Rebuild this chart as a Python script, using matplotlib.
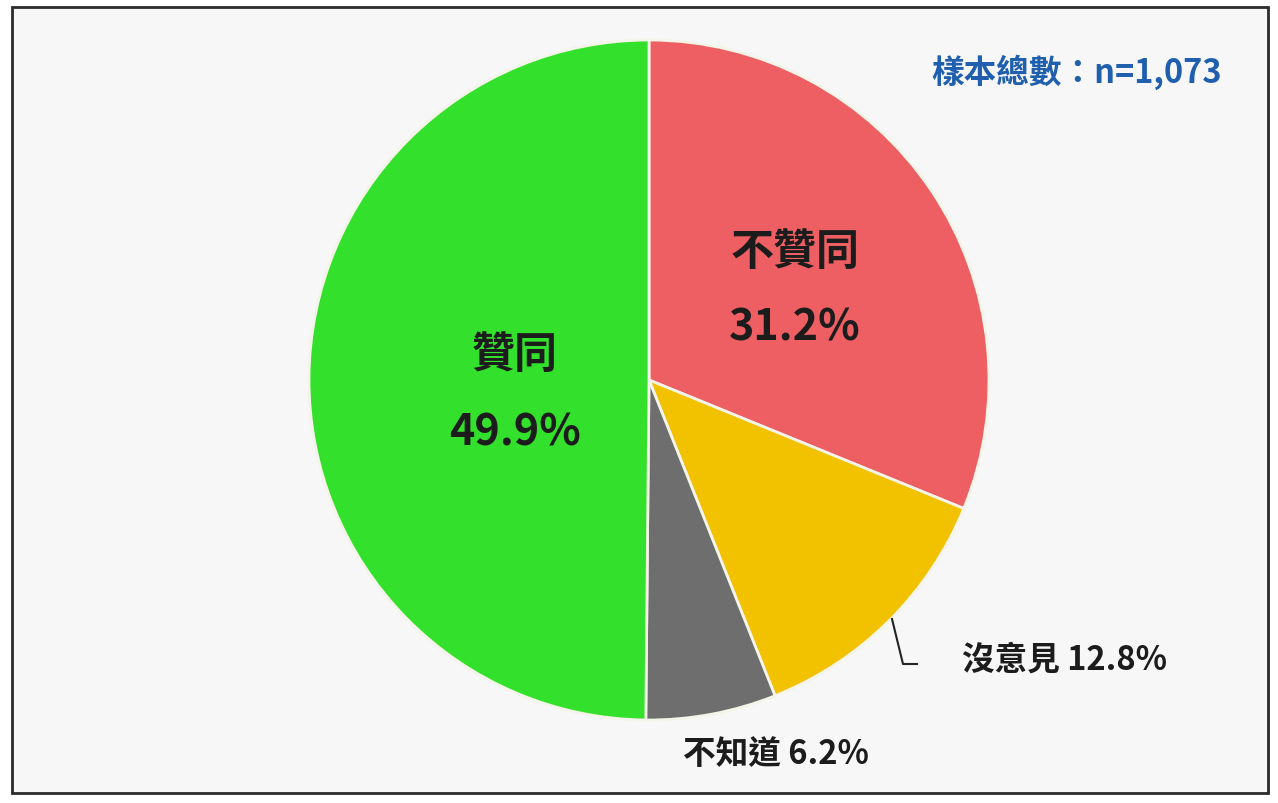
import matplotlib.pyplot as plt
from matplotlib.patches import Rectangle

plt.rcParams["font.family"] = ["Noto Sans CJK TC", "DejaVu Sans"]

# data, clockwise from 12 o'clock
labels = ["不贊同", "沒意見", "不知道", "贊同"]
shares = [31.2, 12.8, 6.2, 49.9]
colors = ["#ee5f63", "#f2c200", "#6e6e6e", "#33e02b"]
sample_note = "樣本總數：n=1,073"

W, H = 1278, 804
fig = plt.figure(figsize=(W / 100, H / 100), dpi=100)
fig.patch.set_facecolor("#ffffff")
ax = fig.add_axes([0, 0, 1, 1])
ax.set_xlim(0, W)
ax.set_ylim(0, H)
ax.set_aspect("equal")
ax.axis("off")

# framed panel
ax.add_patch(Rectangle((12, 10), 1256, 786, facecolor="#f7f7f7",
                       edgecolor="#2b2b2b", linewidth=2, zorder=0))

cx, cy, r = 649, H - 381, 340
ax.pie(shares, colors=colors, startangle=90, counterclock=False,
       center=(cx, cy), radius=r, frame=True,
       wedgeprops=dict(edgecolor="#f4f4e8", linewidth=2))
ax.set_xlim(0, W)
ax.set_ylim(0, H)
ax.axis("off")

dark = "#1c1c1c"
big = dict(ha="center", va="center", fontsize=31, fontweight="bold", color=dark)
ax.text(795, H - 252, labels[0], **big)
ax.text(795, H - 328, f"{shares[0]}%", **big)
ax.text(515, H - 355, labels[3], **big)
ax.text(515, H - 433, f"{shares[3]}%", **big)

small = dict(va="center", fontsize=23.5, fontweight="bold", color=dark)
ax.text(962, H - 660, f"{labels[1]} {shares[1]}%", ha="left", **small)
ax.text(683, H - 755, f"{labels[2]} {shares[2]}%", ha="left", **small)

# leader line for 沒意見
ax.plot([892, 903, 917], [H - 620, H - 665, H - 665], color="#222222", lw=1.5)

ax.text(1222, H - 72, sample_note, ha="right", va="center", fontsize=23.5,
        fontweight="bold", color="#1f5fae")

fig.savefig("out.png", dpi=100, facecolor=fig.get_facecolor())
